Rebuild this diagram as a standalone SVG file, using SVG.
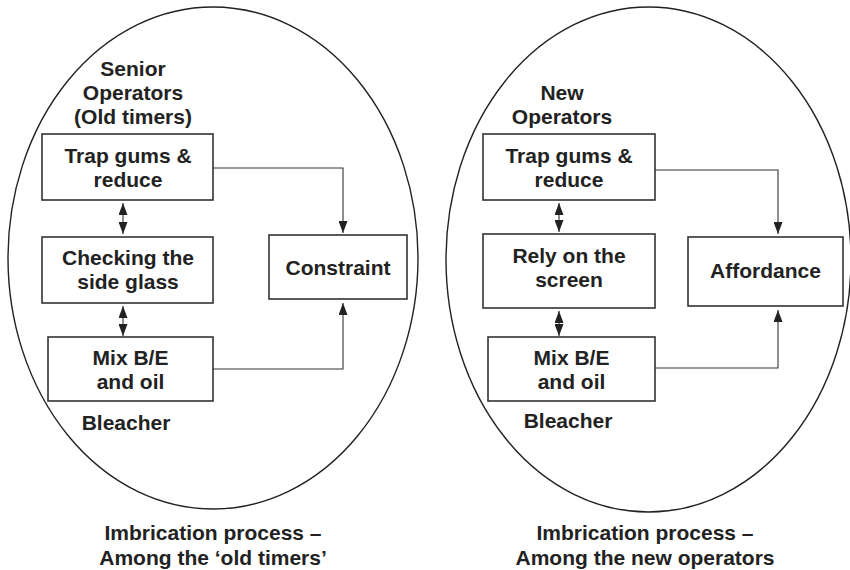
<svg xmlns="http://www.w3.org/2000/svg" width="850" height="570" viewBox="0 0 850 570">
  <style>
    .oval { fill: none; stroke: #222; stroke-width: 1.4; }
    .box { fill: #fff; stroke: #333; stroke-width: 1.6; }
    .link { fill: none; stroke: #333; stroke-width: 1.1; }
    text { font-family: "Liberation Sans", Arial, sans-serif; font-weight: bold; font-size: 21px; fill: #222; text-anchor: middle; }
  </style>
  <defs>
    <marker id="head" viewBox="0 0 12 9" refX="12" refY="4.5" markerWidth="12" markerHeight="9" markerUnits="userSpaceOnUse" orient="auto">
      <path d="M0,0 L12,4.5 L0,9 Z" fill="#222"/>
    </marker>
    <marker id="tail" viewBox="0 0 12 9" refX="0" refY="4.5" markerWidth="12" markerHeight="9" markerUnits="userSpaceOnUse" orient="auto">
      <path d="M12,0 L0,4.5 L12,9 Z" fill="#222"/>
    </marker>
  </defs>

  <!-- left: senior operators -->
  <g id="old-timers-group">
    <ellipse class="oval" cx="213" cy="258" rx="205" ry="251"/>
    <text x="133" y="76">Senior</text>
    <text x="133" y="100">Operators</text>
    <text x="133" y="124">(Old timers)</text>
    <text x="126" y="430">Bleacher</text>
  </g>
  <g id="old-trap">
    <rect class="box" x="42" y="134" width="171" height="66"/>
    <text x="128" y="163">Trap gums &amp;</text>
    <text x="128" y="187">reduce</text>
  </g>
  <g id="old-glass">
    <rect class="box" x="42" y="237" width="171" height="66"/>
    <text x="128" y="265">Checking the</text>
    <text x="128" y="289">side glass</text>
  </g>
  <g id="old-mix">
    <rect class="box" x="48" y="337" width="165" height="64"/>
    <text x="130.5" y="365">Mix B/E</text>
    <text x="130.5" y="389">and oil</text>
  </g>
  <g id="constraint">
    <rect class="box" x="269" y="235" width="138" height="64"/>
    <text x="338" y="275">Constraint</text>
  </g>
  <g id="old-caption">
    <text x="213" y="540">Imbrication process –</text>
    <text x="213" y="565">Among the ‘old timers’</text>
  </g>

  <!-- right: new operators -->
  <g id="new-operators-group">
    <ellipse class="oval" cx="648.5" cy="259.5" rx="202.5" ry="252.5"/>
    <text x="562" y="100">New</text>
    <text x="562" y="124">Operators</text>
    <text x="568" y="428">Bleacher</text>
  </g>
  <g id="new-trap">
    <rect class="box" x="483" y="134" width="172" height="66"/>
    <text x="569" y="163">Trap gums &amp;</text>
    <text x="569" y="187">reduce</text>
  </g>
  <g id="new-screen">
    <rect class="box" x="483" y="234" width="172" height="74"/>
    <text x="569" y="263">Rely on the</text>
    <text x="569" y="287">screen</text>
  </g>
  <g id="new-mix">
    <rect class="box" x="488" y="337" width="167" height="64"/>
    <text x="571.5" y="365">Mix B/E</text>
    <text x="571.5" y="389">and oil</text>
  </g>
  <g id="affordance">
    <rect class="box" x="688" y="237" width="155" height="69"/>
    <text x="765.5" y="278">Affordance</text>
  </g>
  <g id="new-caption">
    <text x="645" y="540">Imbrication process –</text>
    <text x="645" y="565">Among the new operators</text>
  </g>

  <!-- connectors -->
  <g id="connectors">
    <line class="link" x1="123" y1="203" x2="123" y2="234" marker-start="url(#tail)" marker-end="url(#head)"/>
    <line class="link" x1="123" y1="306" x2="123" y2="336" marker-start="url(#tail)" marker-end="url(#head)"/>
    <polyline class="link" points="213,168 343,168 343,233" marker-end="url(#head)"/>
    <polyline class="link" points="213,369 343,369 343,303" marker-end="url(#head)"/>

    <line class="link" x1="559" y1="203" x2="559" y2="232" marker-start="url(#tail)" marker-end="url(#head)"/>
    <line class="link" x1="559" y1="311" x2="559" y2="336" marker-start="url(#tail)" marker-end="url(#head)"/>
    <polyline class="link" points="655,170 778,170 778,234" marker-end="url(#head)"/>
    <polyline class="link" points="655,368 778,368 778,310" marker-end="url(#head)"/>
  </g>
</svg>
